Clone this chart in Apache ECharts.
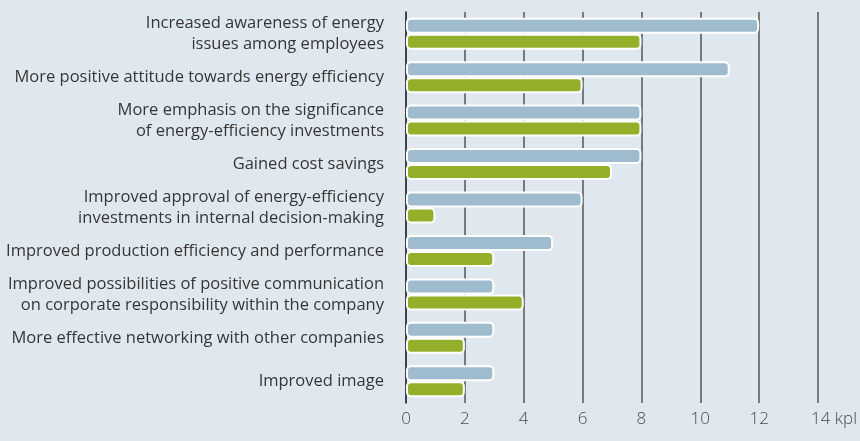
<!DOCTYPE html>
<html>
<head>
<meta charset="utf-8">
<script src="https://cdn.jsdelivr.net/npm/echarts@6/dist/echarts.min.js"></script>
<style>
  html, body { margin: 0; padding: 0; background: #e0e8ef; }
  #chart { width: 860px; height: 441px; }
</style>
</head>
<body>
<div id="chart"></div>
<script>
// categories, top to bottom
const categories = [
  'Increased awareness of energy\nissues among employees',
  'More positive attitude towards energy efficiency',
  'More emphasis on the significance\nof energy-efficiency investments',
  'Gained cost savings',
  'Improved approval of energy-efficiency\ninvestments in internal decision-making',
  'Improved production efficiency and performance',
  'Improved possibilities of positive communication\non corporate responsibility within the company',
  'More effective networking with other companies',
  'Improved image'
];
const blueValues = [12, 11, 8, 8, 6, 5, 3, 3, 3];
const greenValues = [8, 6, 8, 7, 1, 3, 4, 2, 2];
const xTicks = [0, 2, 4, 6, 8, 10, 12, 14];
const unitLabel = 'kpl';

const chart = echarts.init(document.getElementById('chart'));

const barStyle = (color) => ({
  color: color,
  borderColor: '#ffffff',
  borderWidth: 2,
  borderRadius: 4
});

chart.setOption({
  backgroundColor: '#e0e8ef',
  animation: false,
  grid: { left: 406, right: 39, top: 12, bottom: 38 },
  xAxis: {
    type: 'value',
    min: xTicks[0],
    max: xTicks[xTicks.length - 1],
    interval: 2,
    axisLine: { show: false },
    axisTick: { show: false },
    splitLine: { show: true, lineStyle: { color: '#555', width: 1.5 } },
    axisLabel: {
      margin: 8,
      color: '#4a4a4a',
      fontFamily: 'Open Sans',
      fontSize: 17,
      fontWeight: 300,
      formatter: (v) => v === xTicks[xTicks.length - 1] ? '{last|' + v + ' ' + unitLabel + '}' : String(v),
      rich: {
        last: {
          color: '#4a4a4a',
          fontFamily: 'Open Sans',
          fontSize: 17,
          fontWeight: 300,
          padding: [0, 0, 0, 32]
        }
      }
    }
  },
  yAxis: {
    type: 'category',
    data: categories,
    inverse: true,
    axisLine: { show: true, lineStyle: { color: '#333', width: 1.5 } },
    axisTick: { show: false },
    axisLabel: {
      margin: 22,
      color: '#363636',
      fontFamily: 'Open Sans',
      fontSize: 16.5,
      lineHeight: 21
    }
  },
  series: [
    {
      type: 'bar',
      data: blueValues,
      barWidth: 16,
      barGap: '0%',
      itemStyle: barStyle('#9ebccd')
    },
    {
      type: 'bar',
      data: greenValues,
      barWidth: 16,
      itemStyle: barStyle('#94b02b')
    }
  ]
});
</script>
</body>
</html>
